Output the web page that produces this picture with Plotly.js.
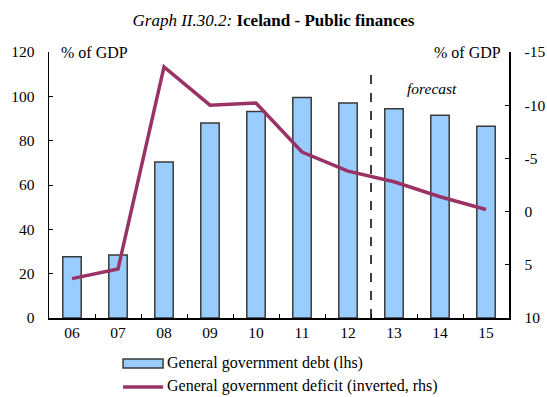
<!DOCTYPE html>
<html>
<head>
<meta charset="utf-8">
<script src="https://cdn.plot.ly/plotly-3.0.1.min.js"></script>
<style>html,body{margin:0;padding:0;background:#fff;}#chart{width:547px;height:397px;}</style>
</head>
<body>
<div id="chart"></div>
<script>
const years = ["06","07","08","09","10","11","12","13","14","15"];
const debt = [27.6, 28.4, 70.4, 88.0, 93.2, 99.5, 97.0, 94.4, 91.5, 86.5];
const deficit = [6.3, 5.4, -13.6, -10.0, -10.2, -5.6, -3.8, -2.8, -1.4, -0.2];
const leftTicks = [0, 20, 40, 60, 80, 100, 120];
const rightTicks = [-15, -10, -5, 0, 5, 10];
const rightTickText = ["-15", "-10", "-5", "0", "5", "10"];
const seriesNames = ["General government debt (lhs)", "General government deficit (inverted, rhs)"];

const serif = "Liberation Serif, Times New Roman, serif";
const barColor = "#99CCFF", barEdge = "#3a3a3a", lineColor = "#993366";

const traces = [
  {
    type: "bar", x: years, y: debt, name: seriesNames[0],
    marker: {color: barColor, line: {color: barEdge, width: 1.5}},
    width: 0.4, yaxis: "y", showlegend: false
  },
  {
    type: "scatter", mode: "lines", x: years, y: deficit, name: seriesNames[1],
    line: {color: lineColor, width: 3.5}, yaxis: "y2", showlegend: false
  }
];

const layout = {
  width: 547, height: 397,
  margin: {l: 49, r: 38, t: 52, b: 79, autoexpand: false},
  paper_bgcolor: "#fff", plot_bgcolor: "#fff",
  font: {family: serif, size: 15, color: "#000"},
  showlegend: false,
  title: {
    text: "<i>Graph II.30.2:</i> <b>Iceland - Public finances</b>",
    x: 0.5, xanchor: "center", y: 0.95, yanchor: "middle",
    font: {family: serif, size: 17, color: "#000"}
  },
  xaxis: {
    type: "category", range: [-0.5, 9.5], showline: true, linecolor: "#000", linewidth: 1.5,
    ticks: "inside", tickson: "boundaries", ticklen: 4, tickcolor: "#000",
    showgrid: false, zeroline: false, tickfont: {family: serif, size: 15.5}
  },
  yaxis: {
    range: [0, 120], tickvals: leftTicks, showline: true, linecolor: "#000", linewidth: 1.5,
    ticks: "inside", ticklen: 4, tickcolor: "#000", showgrid: false, zeroline: false,
    tickfont: {family: serif, size: 15.5}, ticklabelstandoff: 10
  },
  yaxis2: {
    overlaying: "y", side: "right", range: [10, -15], tickvals: rightTicks, ticktext: rightTickText,
    showline: true, linecolor: "#000", linewidth: 1.5, ticks: "inside", ticklen: 4, tickcolor: "#000",
    showgrid: false, zeroline: false, tickfont: {family: serif, size: 15.5}, ticklabelstandoff: 11
  },
  shapes: [
    {type: "line", xref: "x", yref: "y", x0: 6.5, x1: 6.5, y0: 0, y1: 112,
     line: {color: "#000", width: 1.5, dash: "dash"}},
    {type: "rect", xref: "paper", yref: "paper", x0: 0.161, x1: 0.248, y0: -0.188, y1: -0.154,
     fillcolor: barColor, line: {color: barEdge, width: 1.5}},
    {type: "line", xref: "paper", yref: "paper", x0: 0.161, x1: 0.248, y0: -0.259, y1: -0.259,
     line: {color: lineColor, width: 3.5}}
  ],
  annotations: [
    {text: "% of GDP", xref: "paper", yref: "paper", x: 0.022, y: 1, xanchor: "left", yanchor: "middle",
     showarrow: false, font: {family: serif, size: 16}},
    {text: "% of GDP", xref: "paper", yref: "paper", x: 0.988, y: 1, xanchor: "right", yanchor: "middle",
     showarrow: false, font: {family: serif, size: 16}},
    {text: "<i>forecast</i>", xref: "x", yref: "y", x: 7.83, y: 103.6, xanchor: "center", yanchor: "middle",
     showarrow: false, font: {family: serif, size: 15.5}},
    {text: seriesNames[0], xref: "paper", yref: "paper", x: 0.252, y: -0.171, xanchor: "left", yanchor: "middle",
     showarrow: false, font: {family: serif, size: 16}},
    {text: seriesNames[1], xref: "paper", yref: "paper", x: 0.252, y: -0.255, xanchor: "left", yanchor: "middle",
     showarrow: false, font: {family: serif, size: 16}}
  ]
};

Plotly.newPlot("chart", traces, layout, {displayModeBar: false, staticPlot: true});
</script>
</body>
</html>
